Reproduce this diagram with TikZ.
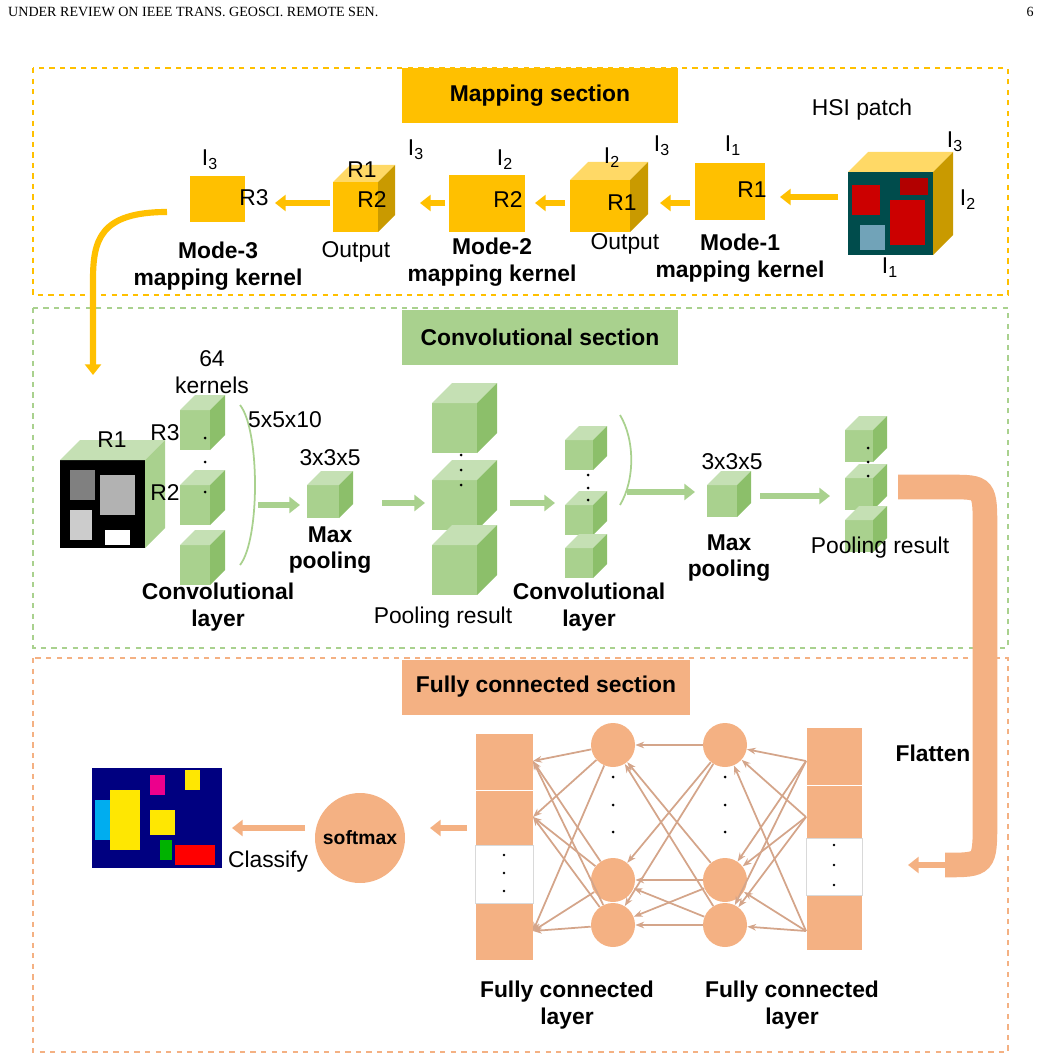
\documentclass[tikz,border=0pt]{standalone}
\usepackage{fontspec}
\setmainfont{Liberation Sans}
\newfontfamily\hdrfont{Liberation Serif}
\usetikzlibrary{arrows.meta}
\definecolor{mapo}{HTML}{FFC000}
\definecolor{mapt}{HTML}{FFD966}
\definecolor{maps}{HTML}{C99A00}
\definecolor{convf}{HTML}{A9D18E}
\definecolor{convt}{HTML}{C5E0B4}
\definecolor{convs}{HTML}{8CBF6A}
\definecolor{fcf}{HTML}{F4B183}
\definecolor{fcl}{HTML}{D4A58A}
\newcommand{\Isub}[1]{I\textsubscript{#1}}
\tikzset{
  lbl/.style={font=\fontsize{13}{15}\selectfont, align=center, inner sep=1pt},
  blbl/.style={lbl, font=\fontsize{13}{15}\selectfont\bfseries},
  sect/.style={dashed, line width=0.8pt},
  title/.style={font=\fontsize{13}{15}\selectfont\bfseries},
  marr/.style={-{Triangle[length=6pt,width=9pt]}, line width=3.5pt, mapo},
  carr/.style={-{Triangle[length=6pt,width=9pt]}, line width=3.5pt, convf},
  farr/.style={-{Triangle[length=6pt,width=9pt]}, line width=3.5pt, fcf},
  link/.style={-{Stealth[length=5pt]}, fcl, line width=1pt},
}
% cube: x, y, w, h, depth, front, top, side
\newcommand{\drawcube}[8]{
  \fill[#6] (#1,#2) rectangle ({#1+#3},{#2+#4});
  \fill[#7] (#1,#2) -- ({#1+#5},{#2-#5}) -- ({#1+#3+#5},{#2-#5}) -- ({#1+#3},#2) -- cycle;
  \fill[#8] ({#1+#3},#2) -- ({#1+#3+#5},{#2-#5}) -- ({#1+#3+#5},{#2+#4-#5}) -- ({#1+#3},{#2+#4}) -- cycle;
}
\begin{document}
\begin{tikzpicture}[x=0.02cm,y=-0.02cm]
\useasboundingbox (0,0) rectangle (1041,1060);

% Header
\node[font=\hdrfont\fontsize{8}{9}\selectfont, anchor=west] (hdr) at (2,12) {UNDER REVIEW ON IEEE TRANS. GEOSCI. REMOTE SEN.};
\node[font=\hdrfont\fontsize{8}{9}\selectfont] (pg) at (1030,12) {6};

% Sections
\draw[sect, mapo] (33,68) rectangle (1008,295);
\fill[mapo] (402,68) rectangle (678,123);
\node[title] (tmap) at (540,96) {Mapping section};
\draw[sect, convf] (33,308) rectangle (1008,648);
\fill[convf] (402,310) rectangle (678,365);
\node[title] (tconv) at (540,337) {Convolutional section};
\draw[sect, fcf] (33,658) rectangle (1008,1052);
\fill[fcf] (402,660) rectangle (690,715);
\node[title] (tfc) at (546,687) {Fully connected section};

% Mapping section
\drawcube{848}{172}{85}{83}{20}{teal!60!black}{mapt}{maps}
\fill[red!80!black] (852,185) rectangle (880,215);
\fill[red!80!black] (890,200) rectangle (925,245);
\fill[cyan!40!gray] (860,225) rectangle (885,250);
\fill[red!70!black] (900,178) rectangle (928,195);
\node[lbl] (hsi) at (862,110) {HSI patch};
\node[lbl] (hi3) at (955,142) {\Isub3};
\node[lbl] (hi2) at (968,200) {\Isub2};
\node[lbl] (hi1) at (890,268) {\Isub1};
\draw[marr] (838,197) -- (780,197);

\fill[mapo] (695,163) rectangle (765,220);
\node[lbl] (k1r) at (752,190) {R1};
\node[lbl] (k1i) at (733,146) {\Isub1};
\node[blbl] (k1) at (740,258) {Mode-1\\mapping kernel};
\draw[marr] (690,203) -- (660,203);

\drawcube{570}{180}{60}{52}{18}{mapo}{mapt}{maps}
\node[lbl] (o1r) at (622,203) {R1};
\node[lbl] (o1a) at (612,158) {\Isub2};
\node[lbl] (o1b) at (662,146) {\Isub3};
\node[lbl] (o1) at (625,244) {Output};
\draw[marr] (565,203) -- (535,203);

\fill[mapo] (449,175) rectangle (525,232);
\node[lbl] (k2r) at (508,200) {R2};
\node[lbl] (k2i) at (505,160) {\Isub2};
\node[blbl] (k2) at (492,262) {Mode-2\\mapping kernel};
\draw[marr] (445,203) -- (420,203);

\drawcube{333}{182}{45}{50}{17}{mapo}{mapt}{maps}
\node[lbl] (o2a) at (362,170) {R1};
\node[lbl] (o2r) at (372,200) {R2};
\node[lbl] (o2b) at (416,150) {\Isub3};
\node[lbl] (o2) at (356,252) {Output};
\draw[marr] (330,203) -- (275,203);

\fill[mapo] (190,176) rectangle (245,222);
\node[lbl] (k3r) at (254,198) {R3};
\node[lbl] (k3i) at (210,160) {\Isub3};
\node[blbl] (k3) at (218,266) {Mode-3\\mapping kernel};
\draw[marr] (167,212) .. controls (100,212) and (93,240) .. (93,280) -- (93,375);

% Convolutional section
\drawcube{60}{460}{85}{88}{20}{black}{convt}{convf}
\fill[gray] (70,470) rectangle (95,500);
\fill[gray!60] (100,475) rectangle (135,515);
\fill[white] (105,530) rectangle (130,545);
\fill[gray!40] (70,510) rectangle (92,540);
\node[lbl] (r1) at (112,440) {R1};
\node[lbl] (k64) at (212,372) {64\\kernels};
\foreach \y in {410,485,545}
  \drawcube{180}{\y}{30}{40}{15}{convf}{convt}{convs};
\node[lbl] (kr3) at (165,433) {R3};
\node[lbl] (kr2) at (165,493) {R2};
\foreach \y in {438,462,492} \fill (205,\y) circle (1.5);
\draw[convf, line width=1pt] (240,405) .. controls (260,430) and (260,540) .. (240,565);
\node[lbl] (ks) at (285,420) {5x5x10};
\node[blbl] (cl1) at (218,607) {Convolutional\\layer};
\draw[carr] (258,505) -- (300,505);

\drawcube{307}{485}{32}{33}{14}{convf}{convt}{convs}
\node[lbl] (p1s) at (330,458) {3x3x5};
\node[blbl] (mp1) at (330,550) {Max\\pooling};
\draw[carr] (382,503) -- (425,503);

\foreach \y in {403,480,545}
  \drawcube{432}{\y}{45}{50}{20}{convf}{convt}{convs};
\foreach \y in {455,470,485} \fill (461,\y) circle (1.5);
\node[lbl] (pr1) at (443,618) {Pooling result};
\draw[carr] (510,503) -- (555,503);

\foreach \y in {440,505,548}
  \drawcube{565}{\y}{28}{30}{14}{convf}{convt}{convs};
\foreach \y in {475,488,500} \fill (588,\y) circle (1.5);
\draw[convf, line width=1pt] (620,415) .. controls (635,440) and (635,480) .. (620,505);
\node[blbl] (cl2) at (589,607) {Convolutional\\layer};
\draw[carr] (627,492) -- (695,492);

\drawcube{707}{485}{30}{32}{14}{convf}{convt}{convs}
\node[lbl] (p2s) at (732,462) {3x3x5};
\node[blbl] (mp2) at (729,558) {Max\\pooling};
\draw[carr] (760,496) -- (830,496);

\foreach \y in {430,478,520}
  \drawcube{845}{\y}{28}{32}{14}{convf}{convt}{convs};
\foreach \y in {448,462,476} \fill (868,\y) circle (1.5);
\node[lbl] (pr2) at (880,548) {Pooling result};

\draw[fcf, line width=14pt] (898,487) -- (950,487) .. controls (985,487) .. (985,530) -- (985,820) .. controls (985,865) .. (945,865);
\draw[farr] (950,865) -- (908,865);
\node[blbl] (flat) at (933,753) {Flatten};

% Fully connected section
\foreach \y/\h in {733/57,790/55,903/57} \fill[fcf, draw=white] (475,\y) rectangle (533,{\y+\h});
\draw[gray!30] (475,845) rectangle (533,903);
\foreach \y in {855,873,891} \fill (504,\y) circle (1.3);
\foreach \y/\h in {727/58,785/53,895/55} \fill[fcf, draw=white] (806,\y) rectangle (862,{\y+\h});
\draw[gray!30] (806,838) rectangle (862,895);
\foreach \y in {845,865,885} \fill (834,\y) circle (1.3);

\foreach \i/\y in {1/745,2/880,3/925} {
  \node[circle, fill=fcf, minimum size=44*0.02cm, inner sep=0] (lc\i) at (613,\y) {};
  \node[circle, fill=fcf, minimum size=44*0.02cm, inner sep=0] (rc\i) at (725,\y) {};
}
\foreach \y in {777,805,832} { \fill (613,\y) circle (1.5); \fill (725,\y) circle (1.5); }
\foreach \i/\y in {1/761,2/817,3/931} {
  \coordinate (lr\i) at (533,\y);
  \coordinate (rr\i) at (806,\y);
}
\foreach \a in {1,2,3} \foreach \b in {1,2,3} {
  \draw[link] (rr\a) -- (rc\b);
  \draw[link] (rc\a) -- (lc\b);
  \draw[link] (lc\a) -- (lr\b);
}

\draw[farr] (467,828) -- (430,828);
\node[circle, fill=fcf, minimum size=90*0.02cm, font=\fontsize{11}{13}\selectfont\bfseries] (smax) at (360,838) {softmax};
\draw[farr] (305,828) -- (232,828);
\node[lbl] (cls) at (268,862) {Classify};

\fill[blue!50!black] (92,768) rectangle (222,868);
\fill[yellow!90!orange] (110,790) rectangle (140,850);
\fill[cyan] (95,800) rectangle (110,840);
\fill[yellow!90!orange] (150,810) rectangle (175,835);
\fill[red] (175,845) rectangle (215,865);
\fill[magenta] (150,775) rectangle (165,795);
\fill[yellow!90!orange] (185,770) rectangle (200,790);
\fill[green!70!black] (160,840) rectangle (172,860);

\node[blbl] (fc1) at (567,1005) {Fully connected\\layer};
\node[blbl] (fc2) at (792,1005) {Fully connected\\layer};
\end{tikzpicture}
\end{document}
